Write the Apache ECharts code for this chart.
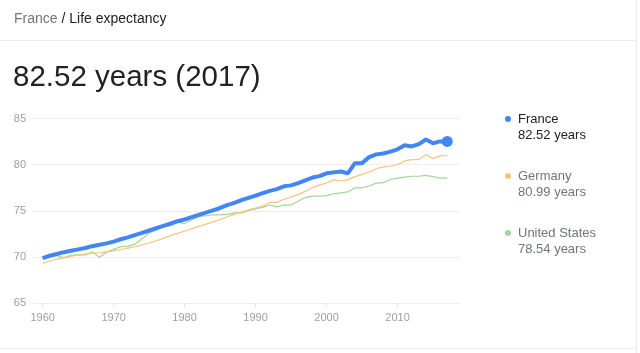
<!DOCTYPE html>
<html>
<head>
<meta charset="utf-8">
<script src="https://cdn.jsdelivr.net/npm/echarts@6/dist/echarts.min.js"></script>
<style>
html,body{margin:0;padding:0;background:#fff;}
#chart{width:640px;height:353px;}
</style>
</head>
<body>
<div id="chart"></div>
<script>
var years = [];
for (var y = 1960; y <= 2017; y++) years.push(y);

var france = [69.87,70.12,70.31,70.51,70.66,70.81,70.96,71.16,71.31,71.46,
  71.66,71.91,72.11,72.36,72.61,72.86,73.11,73.36,73.61,73.86,
  74.05,74.30,74.55,74.80,75.05,75.30,75.60,75.85,76.15,76.40,
  76.65,76.90,77.15,77.35,77.65,77.75,78.00,78.30,78.60,78.75,
  79.06,79.16,79.26,79.06,80.16,80.16,80.81,81.11,81.21,81.41,
  81.66,82.11,81.97,82.22,82.72,82.32,82.52,82.52];

var germany = [69.30,69.55,69.75,69.90,70.05,70.20,70.30,70.40,70.45,70.55,
  70.65,70.80,70.95,71.10,71.30,71.50,71.75,72.00,72.30,72.55,
  72.80,73.05,73.30,73.55,73.80,74.05,74.35,74.60,74.85,75.10,
  75.30,75.50,75.90,75.90,76.25,76.50,76.75,77.10,77.50,77.80,
  78.00,78.35,78.25,78.35,78.70,78.95,79.20,79.55,79.75,79.85,
  80.00,80.40,80.55,80.55,81.10,80.65,80.95,80.99];

var usa = [69.77,70.27,70.12,69.92,70.17,70.21,70.21,70.56,69.95,70.51,
  70.81,71.11,71.16,71.36,71.96,72.60,72.86,73.26,73.36,73.80,
  73.61,74.01,74.36,74.46,74.56,74.56,74.61,74.77,74.77,75.02,
  75.21,75.37,75.62,75.42,75.62,75.62,76.03,76.43,76.58,76.58,
  76.64,76.84,76.94,77.04,77.49,77.49,77.69,77.99,78.04,78.39,
  78.54,78.64,78.74,78.74,78.84,78.69,78.54,78.54];

var seriesNames = ['France', 'Germany', 'United States'];
var latestValues = ['82.52', '80.99', '78.54'];
var latestYear = 2017;
var yTicks = [65, 70, 75, 80, 85];
var xTickLabels = [1960, 1970, 1980, 1990, 2000, 2010];

var colors = ['#4285f4', '#f6c47e', '#a6d49b'];
var FONT = '"Liberation Sans", Arial, sans-serif';

function pairs(arr) { return years.map(function (yr, i) { return [yr, arr[i]]; }); }

var chart = echarts.init(document.getElementById('chart'), null, {renderer: 'canvas'});

var legendGraphics = [];
seriesNames.forEach(function (name, i) {
  var cy = 119 + i * 57;
  var main = i === 0;
  legendGraphics.push({
    type: 'circle', shape: {cx: 508, cy: cy, r: 3},
    style: {fill: colors[i]}, silent: true
  });
  legendGraphics.push({
    type: 'text', x: 518, y: cy,
    style: {text: name, font: '13px ' + FONT, fill: main ? '#222222' : '#70757a', verticalAlign: 'middle'}
  });
  legendGraphics.push({
    type: 'text', x: 518, y: cy + 16,
    style: {text: latestValues[i] + ' years', font: '13px ' + FONT, fill: main ? '#222222' : '#70757a', verticalAlign: 'middle'}
  });
});

var option = {
  animation: false,
  backgroundColor: '#ffffff',
  grid: {left: 32, right: 180, top: 118.5, bottom: 50, containLabel: false},
  xAxis: {
    type: 'value', min: 1958.5, max: 2018.8,
    axisLine: {show: false},
    axisTick: {show: true, customValues: xTickLabels, length: 4, lineStyle: {color: '#e2e2e2'}},
    axisLabel: {customValues: xTickLabels, color: '#9e9e9e', fontSize: 11, fontFamily: FONT, margin: 9,
      formatter: function (v) { return String(v); }},
    splitLine: {show: false}
  },
  yAxis: {
    type: 'value', min: yTicks[0], max: yTicks[yTicks.length - 1], interval: 5,
    axisLine: {show: false}, axisTick: {show: false},
    axisLabel: {color: '#9e9e9e', fontSize: 11, fontFamily: FONT, margin: 6},
    splitLine: {lineStyle: {color: '#eeeeee', width: 1}}
  },
  series: [
    {
      name: seriesNames[2], type: 'line', data: pairs(usa), showSymbol: false, symbol: 'none',
      lineStyle: {color: colors[2], width: 1.2}, z: 2
    },
    {
      name: seriesNames[1], type: 'line', data: pairs(germany), showSymbol: false, symbol: 'none',
      lineStyle: {color: colors[1], width: 1.2}, z: 3
    },
    {
      name: seriesNames[0], type: 'line', data: pairs(france),
      symbol: 'circle',
      symbolSize: function (v) { return v[0] === latestYear ? 11 : 0; },
      showSymbol: true,
      itemStyle: {color: colors[0]},
      lineStyle: {color: colors[0], width: 4}, z: 4
    }
  ],
  graphic: [
    {type: 'text', x: 14, y: 19, style: {text: 'France', font: '14px ' + FONT, fill: '#70757a', verticalAlign: 'middle'}},
    {type: 'text', x: 57.6, y: 19, style: {text: ' / Life expectancy', font: '14px ' + FONT, fill: '#222222', verticalAlign: 'middle'}},
    {type: 'line', shape: {x1: 0, y1: 40.5, x2: 636, y2: 40.5}, style: {stroke: '#ebebeb', lineWidth: 1}},
    {type: 'line', shape: {x1: 0, y1: 348.5, x2: 636, y2: 348.5}, style: {stroke: '#ebebeb', lineWidth: 1}},
    {type: 'line', shape: {x1: 636.5, y1: 0, x2: 636.5, y2: 353}, style: {stroke: '#ebebeb', lineWidth: 1}},
    {type: 'text', x: 13, y: 78, style: {text: latestValues[0] + ' years (' + latestYear + ')', font: '29.5px ' + FONT, fill: '#222222', verticalAlign: 'middle'}}
  ].concat(legendGraphics)
};
chart.setOption(option);
</script>
</body>
</html>
